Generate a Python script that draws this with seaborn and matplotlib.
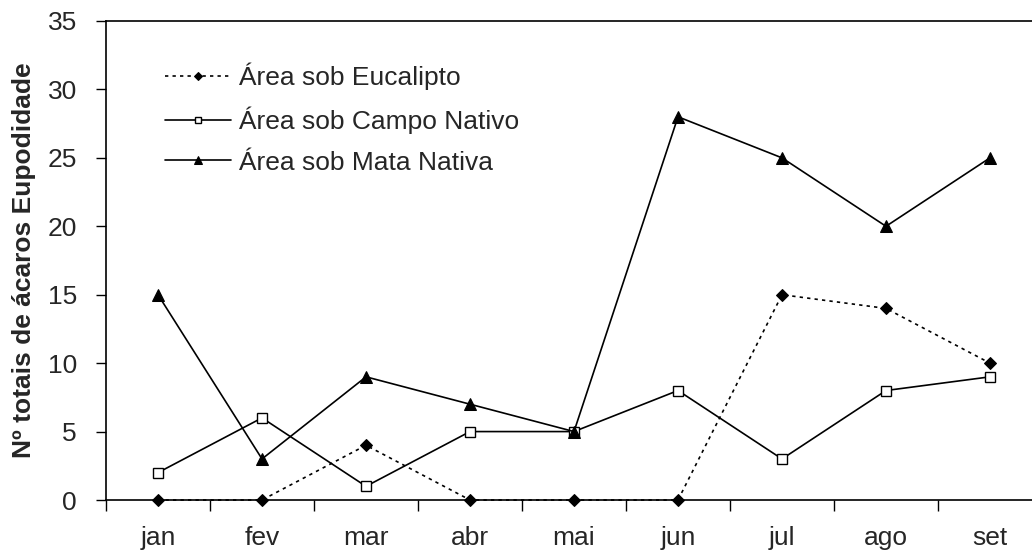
import numpy as np
import pandas as pd
import matplotlib
matplotlib.use('Agg')
import matplotlib.pyplot as plt
import seaborn as sns

# Data
meses = ['jan', 'fev', 'mar', 'abr', 'mai', 'jun', 'jul', 'ago', 'set']
eucalipto = [0, 0, 4, 0, 0, 0, 15, 14, 10]
campo_nativo = [2, 6, 1, 5, 5, 8, 3, 8, 9]
mata_nativa = [15, 3, 9, 7, 5, 28, 25, 20, 25]

sns.set_theme(style='white')
plt.rcParams['font.family'] = ['Liberation Sans', 'DejaVu Sans']

fig = plt.figure(figsize=(10.32, 5.54), dpi=100)
ax = fig.add_axes([106 / 1032, 1 - 500 / 554, (1032 - 106) / 1032, (500 - 21) / 554])

pos = np.arange(len(meses))
df = pd.DataFrame({'pos': pos, 'euc': eucalipto, 'campo': campo_nativo, 'mata': mata_nativa})

sns.lineplot(data=df, x='pos', y='euc', ax=ax, color='black', lw=1.2,
             marker='D', markersize=6, markeredgecolor='black', markerfacecolor='black',
             linestyle=(0, (2, 2.5)), label='Área sob Eucalipto', clip_on=False, zorder=5)
sns.lineplot(data=df, x='pos', y='campo', ax=ax, color='black', lw=1.2,
             marker='s', markersize=7, markeredgecolor='black', markerfacecolor='white',
             markeredgewidth=1.0, label='Área sob Campo Nativo', clip_on=False, zorder=5)
sns.lineplot(data=df, x='pos', y='mata', ax=ax, color='black', lw=1.2,
             marker='^', markersize=9, markeredgecolor='black', markerfacecolor='black',
             label='Área sob Mata Nativa', clip_on=False, zorder=5)

fs = 19
ax.set_xlim(-0.5, (1032 - 158) / 104)
ax.set_ylim(0, 35)
ax.set_yticks(range(0, 36, 5))
ax.set_xticks(pos - 0.5, minor=False)
ax.set_xticklabels([])
ax.set_xticks(pos, minor=True)
ax.set_xticklabels(meses, minor=True, fontsize=fs)
ax.tick_params(axis='x', which='major', direction='out', length=8, width=1, color='black', bottom=True)
ax.tick_params(axis='x', which='minor', length=0, pad=19)
ax.tick_params(axis='y', direction='out', length=7, width=1, color='black', left=True, labelsize=fs, pad=14)
ax.set_xlabel('')
ax.set_ylabel('Nº totais de ácaros Eupodidade', fontsize=fs, fontweight='bold', labelpad=8)

for side in ['left', 'bottom', 'top']:
    ax.spines[side].set_color('black')
    ax.spines[side].set_linewidth(1.2)
ax.spines['right'].set_visible(False)

ax.legend(loc='upper left', bbox_to_anchor=(0.038, 0.962), frameon=False, fontsize=fs,
          handlelength=2.5, handletextpad=0.3, labelspacing=0.62, markerscale=0.65)

fig.savefig('out.png', dpi=100)
